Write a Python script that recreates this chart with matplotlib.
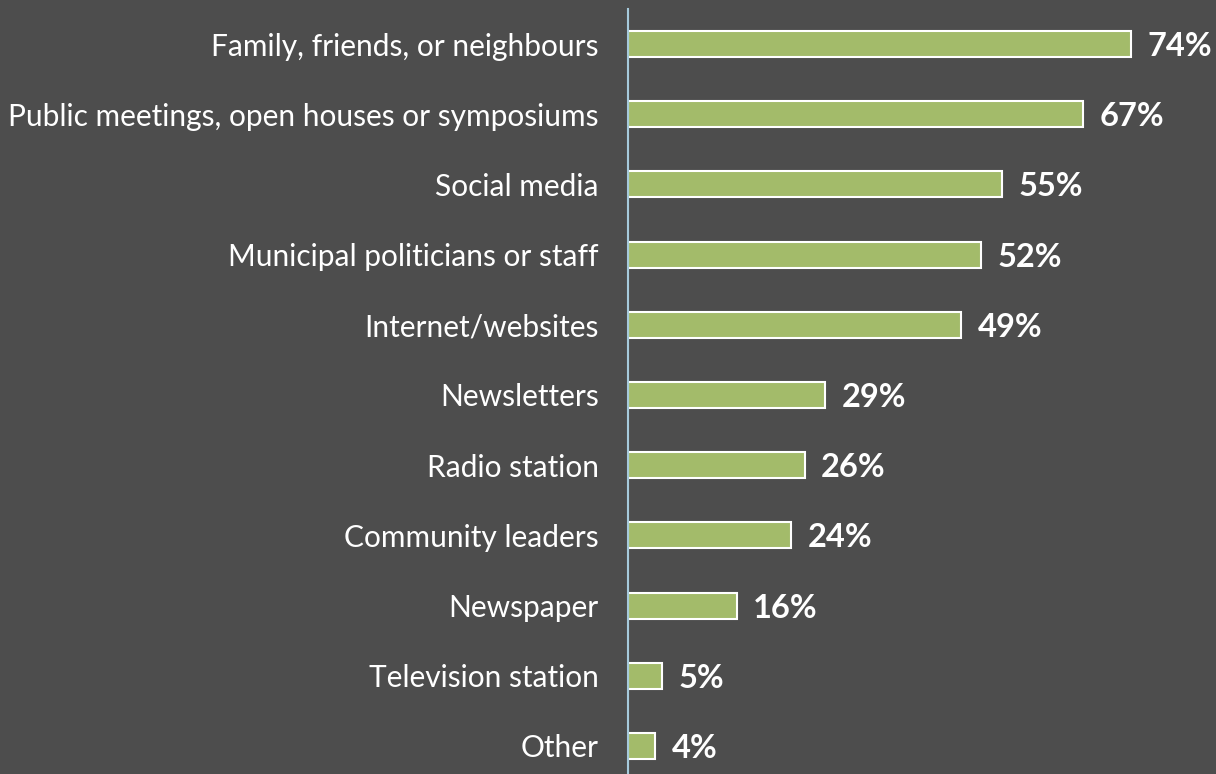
import matplotlib.pyplot as plt

categories = ['Family, friends, or neighbours', 'Public meetings, open houses or symposiums',
              'Social media', 'Municipal politicians or staff', 'Internet/websites',
              'Newsletters', 'Radio station', 'Community leaders', 'Newspaper',
              'Television station', 'Other']
values = [74, 67, 55, 52, 49, 29, 26, 24, 16, 5, 4]

bg = '#4d4d4d'
bar_color = '#a3bb6a'

fig = plt.figure(figsize=(12.16, 7.74), dpi=100, facecolor=bg)
# axes placed by pixel: left edge on the axis line, rows 70 px apart
ax = fig.add_axes([628 / 1216, -7 / 774, 588 / 1216, 772 / 774], facecolor=bg)

y = list(range(len(categories)))
ax.barh(y, values, height=0.37, color=bar_color, edgecolor='white', linewidth=1.5)
ax.set_ylim(len(categories) - 0.5, -0.5)
ax.set_xlim(0, 74 / 503 * 588)

for yi, v in zip(y, values):
    ax.text(v + 2.4, yi, f'{v}%', va='center_baseline', ha='left', color='white',
            fontsize=23.5, fontweight='bold', family='Lato')

ax.set_yticks(y)
ax.set_yticklabels(categories, color='white', fontsize=21.5, family='Lato')
ax.tick_params(axis='y', length=0, pad=21)
ax.set_xticks([])

for side in ['top', 'right', 'bottom']:
    ax.spines[side].set_visible(False)
ax.spines['left'].set_color('#a6cadc')
ax.spines['left'].set_linewidth(1.5)

fig.savefig('out.png', dpi=100, facecolor=bg)
